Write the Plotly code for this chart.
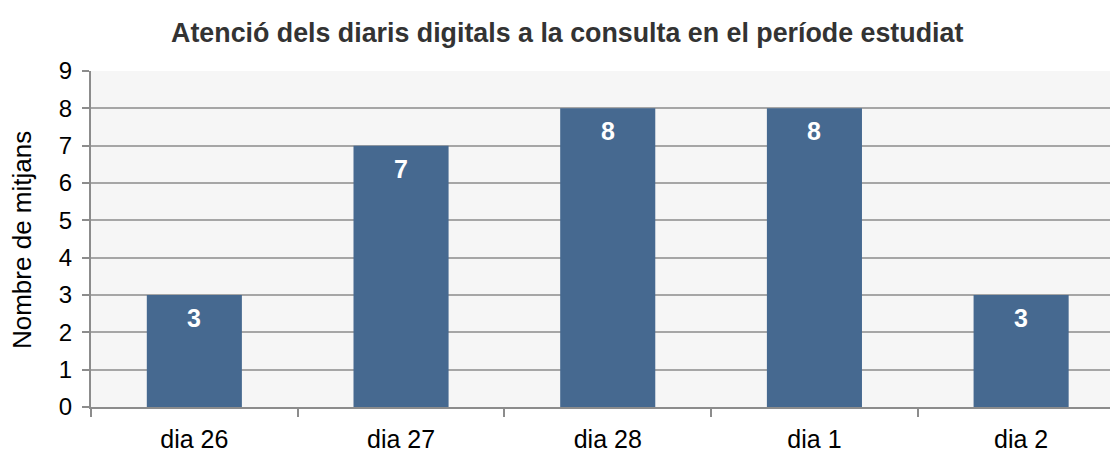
import plotly.graph_objects as go

categories = ["dia 26", "dia 27", "dia 28", "dia 1", "dia 2"]
mitjans = [3, 7, 8, 8, 3]
y_title = "Nombre de mitjans"

fig = go.Figure(go.Bar(
    x=categories,
    y=mitjans,
    marker=dict(color="#466990", line=dict(width=0)),
    width=0.46,
    hoverinfo="x+y",
))

# value labels just below the top of each bar
for cat, v in zip(categories, mitjans):
    fig.add_annotation(
        x=cat, y=v, text=f"<b>{v}</b>", showarrow=False,
        yanchor="middle", yshift=-23,
        font=dict(family="Liberation Sans, Arial", size=25, color="white"),
    )

# vertical axis title placed beside the tick labels
fig.add_annotation(
    xref="paper", yref="paper", x=-0.0677, y=0.497,
    xanchor="center", yanchor="middle", textangle=-90,
    text=y_title, showarrow=False,
    font=dict(family="Liberation Sans, Arial", size=26, color="black"),
)

fig.update_layout(
    width=1110, height=452,
    margin=dict(l=91, r=0, t=71, b=45),
    paper_bgcolor="white",
    plot_bgcolor="#f6f6f6",
    font=dict(family="Liberation Sans, Arial", size=25, color="black"),
    title=dict(
        text="<b>Atenció dels diaris digitals a la consulta en el període estudiat</b>",
        x=0.511, xanchor="center", y=0.928, yanchor="middle",
        font=dict(size=26.8, color="#333333"),
    ),
    showlegend=False,
)

fig.update_yaxes(
    range=[0, 9], dtick=1,
    automargin=False,
    showgrid=True, gridcolor="#a6a6a6", gridwidth=1.5,
    showline=True, linecolor="#8c8c8c", linewidth=2,
    ticks="outside", ticklen=7, tickcolor="#8c8c8c", tickwidth=1.5,
    ticklabelstandoff=5,
    tickfont=dict(size=24),
    zeroline=False,
)
fig.update_xaxes(
    range=[-0.5, 4.43],
    automargin=False,
    showline=True, linecolor="#8c8c8c", linewidth=2,
    ticks="outside", tickson="boundaries", ticklen=8, tickcolor="#8c8c8c", tickwidth=1.5,
    ticklabelstandoff=9,
    tickfont=dict(size=25),
    showgrid=False,
)

fig.write_html("out.html")
